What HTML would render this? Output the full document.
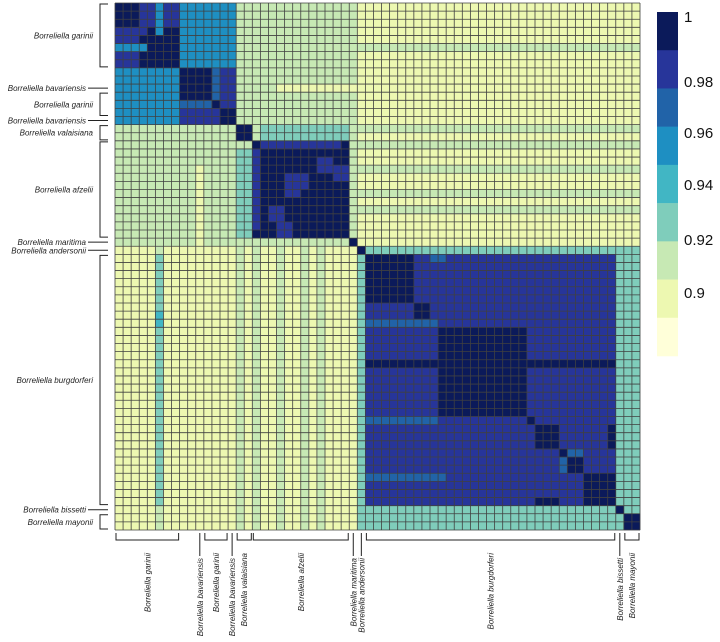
<!DOCTYPE html>
<html><head><meta charset="utf-8"><style>
html,body{margin:0;padding:0;background:#fff;}
svg{display:block;}
.lab{font-family:"Liberation Sans",sans-serif;font-style:italic;font-size:8px;fill:#222;}
.leg{font-family:"Liberation Sans",sans-serif;font-size:15px;fill:#111;}
</style></head><body>
<svg id="chart" width="720" height="642" viewBox="0 0 720 642" xmlns="http://www.w3.org/2000/svg">
<g id="cells"></g>
<g id="grid"></g>
<g id="legend"></g>
<g id="left"></g>
<g id="bottom"></g>
</svg>
<script>
// cluster index ranges (first, last) in the sorted sample order
const clusterStart = [0, 8, 12, 13, 15, 17, 29, 30, 31, 62, 63];
const clusterEnd   = [7, 11, 12, 14, 16, 28, 29, 30, 61, 62, 64];
// between-cluster similarity (upper triangle, row i col j>=i)
const blockValues = [
 [0.975,0.95,0.955,0.96,0.92,0.915,0.915,0.91,0.91,0.91,0.91],
 [0,0.99,0.96,0.975,0.92,0.915,0.915,0.91,0.91,0.91,0.91],
 [0,0,0.99,0.975,0.92,0.915,0.915,0.91,0.91,0.91,0.91],
 [0,0,0,0.99,0.92,0.915,0.915,0.91,0.91,0.91,0.91],
 [0,0,0,0,0.99,0.925,0.915,0.91,0.91,0.91,0.91],
 [0,0,0,0,0,0.99,0.915,0.91,0.91,0.91,0.91],
 [0,0,0,0,0,0,0.99,0.91,0.91,0.91,0.91],
 [0,0,0,0,0,0,0,0.99,0.93,0.93,0.93],
 [0,0,0,0,0,0,0,0,0.975,0.93,0.93],
 [0,0,0,0,0,0,0,0,0,0.99,0.93],
 [0,0,0,0,0,0,0,0,0,0,0.99]
];
// pairwise exceptions: [row0,row1,col0,col1,value] (mirrored)
const exceptions = [
 [0,2,0,2,0.99],[3,7,4,7,0.99],[5,5,0,3,0.95],[0,1,8,11,0.96],[8,14,0,7,0.95],
 [0,7,9,10,0.95],[13,13,8,11,0.975],
 [5,5,15,16,0.92],[5,5,29,64,0.92],[17,17,0,16,0.92],[17,17,29,64,0.92],[15,15,30,64,0.92],[23,23,30,64,0.92],[20,20,30,64,0.92],[25,25,30,64,0.92],
 [10,10,20,64,0.905],[26,26,30,64,0.905],
 [18,27,17,17,0.975],[21,22,21,23,0.975],[19,20,25,26,0.975],[27,28,20,21,0.975],
 [31,36,31,36,0.99],[37,38,37,38,0.99],[39,39,39,39,0.99],[40,50,40,50,0.99],
 [51,51,51,51,0.99],[52,54,52,54,0.99],[55,57,55,57,0.99],[58,61,58,61,0.99],[61,61,52,54,0.99],
 [55,55,56,57,0.96]
];
// one-sided exceptions (row only, not mirrored): [row0,row1,col0,col1,value]
const rowExceptions = [
 [31,61,5,5,0.93],[38,39,5,5,0.94],[44,44,31,61,0.99],
 [39,39,31,39,0.96],[51,51,31,39,0.96],[58,58,31,40,0.96],[31,31,39,40,0.96]
];
const colorBreaks = [0.905,0.915,0.925,0.935,0.945,0.955,0.97,0.982];
const colorBands = ["#ffffd9","#edf8b1","#c7e9b4","#7fcdbb","#41b6c4","#1e8fc2","#2163a8","#27359a","#0b1a5a"];
const legendTicks = ["1","0.98","0.96","0.94","0.92","0.9"];
const legendTickY = [22,87,138,190,245,298];
const rowLabels = [
 ["Borreliella garinii",0,7,"bracket"],["Borreliella bavariensis",10,10,"line"],["Borreliella garinii",11,13,"bracket"],
 ["Borreliella bavariensis",14,14,"line"],["Borreliella valaisiana",15,16,"bracket"],["Borreliella afzelii",17,28,"bracket"],
 ["Borreliella maritima",29,29,"line"],["Borreliella andersonii",30,30,"line"],["Borreliella burgdorferi",31,61,"bracket"],
 ["Borreliella bissetti",62,62,"line"],["Borreliella mayonii",63,64,"bracket"]
];

const N = 65, X0 = 115, Y0 = 3, CW = (640-115)/N, CH = (530-3)/N;
const NS = "http://www.w3.org/2000/svg";
const xPos = i => X0 + i*CW, yPos = i => Y0 + i*CH;
function colorOf(v){ let k=0; for(const b of colorBreaks) if(v>=b) k++; return colorBands[k]; }
function clusterOf(i){ for(let c=0;c<clusterStart.length;c++) if(i>=clusterStart[c]&&i<=clusterEnd[c]) return c; return 0; }
const M = [];
for(let r=0;r<N;r++){ M.push([]); for(let c=0;c<N;c++){ const a=clusterOf(r),b=clusterOf(c); M[r].push(blockValues[Math.min(a,b)][Math.max(a,b)]); } }
for(const e of exceptions){ for(let r=e[0];r<=e[1];r++) for(let c=e[2];c<=e[3];c++){ M[r][c]=e[4]; M[c][r]=e[4]; } }
for(const e of rowExceptions){ for(let r=e[0];r<=e[1];r++) for(let c=e[2];c<=e[3];c++){ M[r][c]=e[4]; } }

function mk(tag, attrs, parent){ const el=document.createElementNS(NS,tag); for(const k in attrs) el.setAttribute(k,attrs[k]); parent.appendChild(el); return el; }
const gC=document.getElementById('cells');
for(let r=0;r<N;r++) for(let c=0;c<N;c++){
  const el=mk('rect',{x:xPos(c),y:yPos(r),width:CW+0.2,height:CH+0.2,fill:colorOf(M[r][c])},gC);
  
  
}
const gG=document.getElementById('grid');
for(let i=0;i<=N;i++){
  mk('line',{x1:xPos(i),x2:xPos(i),y1:Y0,y2:yPos(N),stroke:'#404040','stroke-width':0.8},gG);
  mk('line',{x1:X0,x2:xPos(N),y1:yPos(i),y2:yPos(i),stroke:'#404040','stroke-width':0.8},gG);
}
// legend
const gL=document.getElementById('legend');
const bandH=(356-12)/colorBands.length;
for(let k=0;k<colorBands.length;k++){
  const el=mk('rect',{x:657,y:12+k*bandH,width:21,height:bandH+0.3,fill:colorBands[colorBands.length-1-k]},gL);
  
  
}
for(let k=0;k<legendTicks.length;k++){
  const t=mk('text',{x:684,y:legendTickY[k],class:'leg'},gL); t.textContent=legendTicks[k];
  
  
}
// left labels
const gLeft=document.getElementById('left');
for(const [name,a,b,type] of rowLabels){
  const y0=yPos(a)+1, y1=yPos(b+1)-1, ym=(y0+y1)/2;
  if(type==='bracket'){
    mk('path',{d:`M108 ${y0} H100 V${y1} H108`,fill:'none',stroke:'#222','stroke-width':1},gLeft);
    const t=mk('text',{x:93,y:ym+3,'text-anchor':'end',class:'lab'},gLeft); t.textContent=name;
     
  } else {
    mk('line',{x1:88,x2:108,y1:ym,y2:ym,stroke:'#222','stroke-width':1},gLeft);
    const t=mk('text',{x:86,y:ym+3,'text-anchor':'end',class:'lab'},gLeft); t.textContent=name;
     
  }
}
// bottom labels
const gB=document.getElementById('bottom');
for(const [name,a,b,type] of rowLabels){
  const x0=xPos(a)+1, x1=xPos(b+1)-1, xm=(x0+x1)/2;
  let top;
  if(type==='bracket'){
    mk('path',{d:`M${x0} 533 V540 H${x1} V533`,fill:'none',stroke:'#222','stroke-width':1},gB);
    top=553;
  } else {
    mk('line',{x1:xm,x2:xm,y1:533,y2:556,stroke:'#222','stroke-width':1},gB);
    top=558;
  }
  const t=mk('text',{transform:`translate(${xm+3},${top}) rotate(-90)`,'text-anchor':'end',class:'lab'},gB);
  t.textContent=name;
  
  
}
</script>
</body></html>
